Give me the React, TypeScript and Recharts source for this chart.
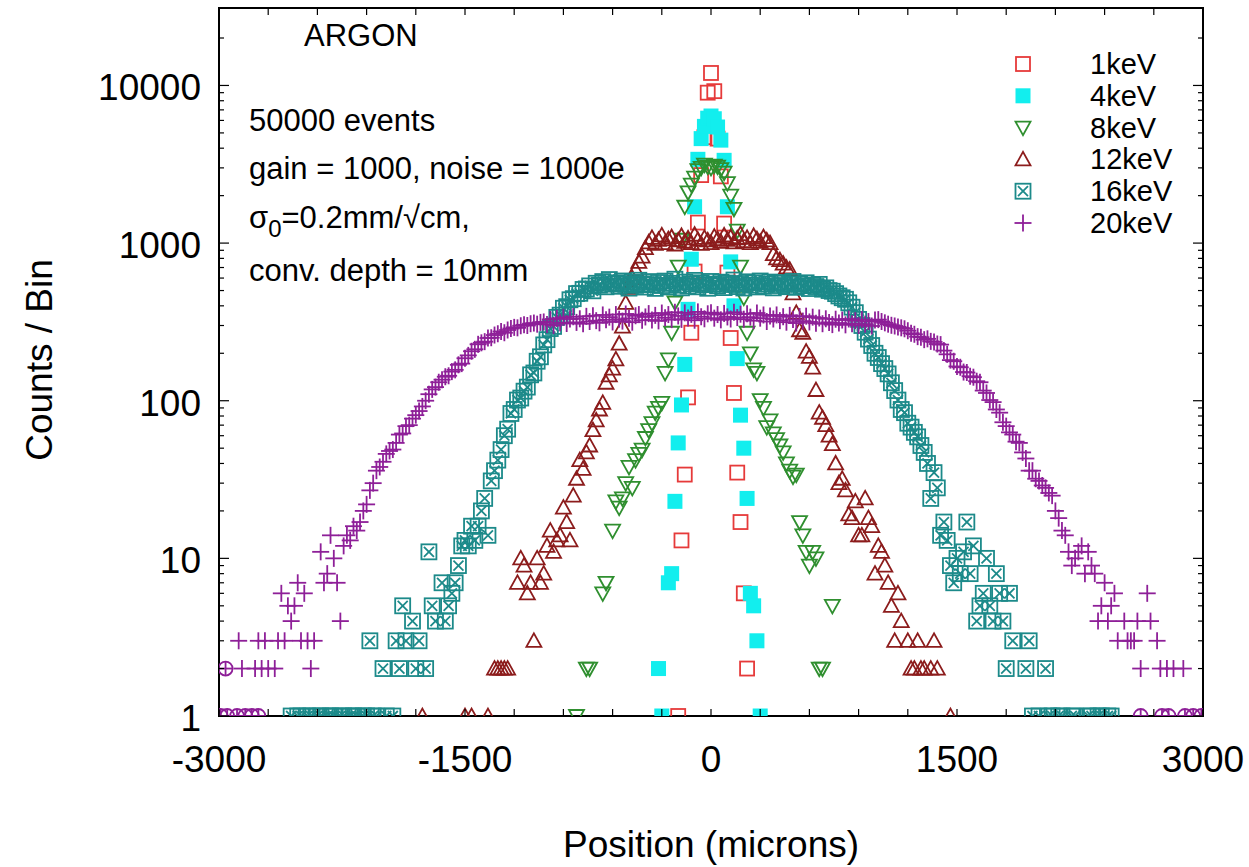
import React from 'react';
import { ScatterChart, Scatter, XAxis, YAxis, ReferenceArea } from 'recharts';

// ---------- layout ----------
const W = 1249;
const H = 867;
const PLOT_L = 219;
const PLOT_R = 1203;
const PLOT_T = 8;
const PLOT_B = 716;
const Y_AXIS_W = 120;
const FONT = '"Liberation Sans", Arial, Helvetica, sans-serif';

// ---------- data (histogram, bin width 20 microns) ----------
const BIN = 20;
const xTicks = [-3000, -2700, -2400, -2100, -1800, -1500, -1200, -900, -600, -300, 0, 300, 600, 900, 1200, 1500, 1800, 2100, 2400, 2700, 3000];
const xLabelTicks = [-3000, -1500, 0, 1500, 3000];
const yMajorTicks = [1, 10, 100, 1000, 10000];
const yMinorFactors = [2, 3, 4, 5, 6, 7, 8, 9];

const seriesNames = ['1keV', '4keV', '8keV', '12keV', '16keV', '20keV'];
const seriesColors = ['#e63a3a', '#12eeee', '#2f8f2f', '#8c1c1c', '#1c8a8a', '#8e1f98'];

const keV1Start = -200;
const keV1 = [1, 13, 34, 105, 270, 660, 1350, 2700, 4700, 9000, 12000, 9200, 4600, 2650, 1330, 650, 250, 112, 35, 17, 6, 2];

const keV4Start = -320;
const keV4 = [2, 1, 0, 7, 8, 23, 54, 94, 170, 380, 790, 1700, 3400, 4600, 5500, 6200, 6400, 6150, 5450, 4500, 3350, 1700, 760, 400, 185, 81, 50, 24, 6, 5, 3, 1];

const keV8Start = -820;
const keV8 = [
  1, 0, 0, 2, 2, 0, 0, 0, 6, 7,
  0, 15, 23, 21, 24, 30, 38, 28, 42, 46,
  49, 58, 65, 72, 84, 90, 97, 150, 183, 270,
  420, 710, 1050, 1700, 2100, 2350, 2600, 2900, 3000, 3150,
  3050, 3000, 3100, 3050, 2950, 2800, 2400, 2000, 1650, 1200,
  710, 450, 270, 200, 158, 150, 101, 90, 68, 75,
  62, 57, 52, 47, 40, 36, 33, 34, 17, 14,
  11, 9, 11, 10, 2, 2, 0, 0, 5,
];

const keV12Start = -1760;
const keV12 = [
  1, 0, 0, 0, 0, 0, 0, 0, 0, 0,
  0, 0, 0, 1, 0, 1, 0, 0, 0, 0,
  1, 0, 2, 2, 2, 2, 2, 0, 0, 7,
  10, 9, 6, 7, 3, 10, 7, 8, 12, 15,
  11, 13, 14, 21, 17, 13, 25, 32, 42, 37,
  47, 52, 65, 75, 88, 97, 130, 145, 160, 183,
  230, 295, 418, 520, 600, 680, 760, 820, 930, 1010,
  1080, 990, 1050, 1120, 1000, 1060, 1090, 980, 1040, 1110,
  1020, 1070, 1000, 1130, 1050, 990, 1080, 1040, 1000, 1100,
  1060, 1020, 1120, 1050, 1090, 1010, 1070, 1140, 1030, 1080,
  1000, 1110, 1060, 1020, 1090, 1040, 1000, 850, 800, 780,
  740, 700, 680, 480, 361, 280, 270, 205, 190, 162,
  117, 84, 78, 70, 60, 53, 40, 30, 32, 27,
  19, 18, 23, 14, 14, 24, 18, 16, 8, 12,
  11, 9, 7, 5, 3, 6, 4, 0, 3, 2,
  2, 3, 2, 2, 0, 2, 3, 2, 0, 0,
  0, 1,
];

const keV16Start = -2560;
const keV16 = [
  1, 0, 1, 1, 0, 1, 1, 0, 1, 1,
  0, 1, 1, 1, 0, 1, 1, 0, 1, 1,
  1, 0, 1, 1, 3, 1, 1, 0, 2, 1,
  0, 1, 3, 2, 5, 3, 0, 4, 2, 3,
  0, 2, 11, 5, 4, 0, 7, 4, 5, 6,
  7, 9, 12, 13, 12, 16, 13, 16, 20, 24,
  14, 31, 36, 42, 49, 60, 66, 83, 88, 101,
  104, 115, 122, 146, 150, 178, 190, 226, 244, 287,
  296, 338, 349, 386, 395, 437, 444, 478, 480, 508,
  512, 535, 498, 556, 541, 570, 528, 587, 549, 560,
  532, 575, 547, 518, 563, 539, 581, 552, 526, 570,
  545, 516, 562, 538, 574, 527, 555, 590, 541, 520,
  566, 534, 552, 580, 528, 560, 545, 517, 571, 549,
  536, 565, 522, 558, 546, 583, 530, 554, 519, 568,
  541, 560, 527, 575, 533, 549, 566, 520, 556, 538,
  562, 529, 548, 571, 524, 553, 537, 560, 515, 542,
  530, 547, 510, 520, 500, 495, 478, 462, 450, 440,
  418, 392, 362, 328, 300, 272, 246, 224, 200, 188,
  172, 160, 148, 130, 116, 101, 88, 84, 72, 68,
  63, 59, 52, 47, 40, 24, 35, 28, 14, 17,
  13, 9, 7, 10, 8, 11, 17, 8, 12, 4,
  5, 6, 10, 5, 4, 8, 6, 4, 2, 6,
  3, 0, 0, 0, 2, 3, 1, 0, 1, 0,
  2, 1, 1, 0, 1, 1, 0, 0, 1, 1,
  0, 0, 0, 1, 1, 0, 1, 1, 0, 1,
  1,
];

const keV20Start = -3000;
const keV20 = [
  0, 0, 0, 0, 0, 0, 3, 2, 0, 0,
  0, 2, 3, 2, 3, 2, 0, 2, 3, 6,
  3, 5, 4, 5, 7, 3, 6, 3, 2, 3,
  0, 11, 7, 8, 14, 10, 7, 4, 12, 14,
  13, 16, 15, 17, 20, 22, 27, 30, 36, 38,
  41, 46, 48, 49, 54, 61, 62, 69, 70, 77,
  81, 86, 92, 100, 110, 118, 122, 131, 136, 142,
  144, 153, 157, 169, 172, 186, 194, 206, 212, 228,
  233, 237, 250, 251, 261, 266, 275, 270, 281, 287,
  292, 290, 299, 303, 300, 308, 311, 306, 314, 316,
  305, 328, 300, 333, 312, 338, 309, 330, 341, 314,
  331, 308, 343, 318, 346, 322, 312, 350, 326, 339,
  316, 352, 329, 320, 355, 333, 315, 346, 352, 324,
  340, 357, 325, 348, 321, 360, 336, 352, 327, 364,
  345, 328, 361, 335, 353, 324, 366, 341, 331, 356,
  362, 334, 352, 326, 358, 340, 330, 364, 337, 354,
  329, 356, 339, 322, 360, 334, 350, 318, 345, 330,
  350, 322, 341, 315, 348, 327, 311, 342, 320, 344,
  316, 339, 310, 335, 308, 331, 314, 304, 329, 311,
  325, 303, 330, 308, 322, 300, 327, 306, 318, 298,
  325, 327, 318, 312, 306, 301, 298, 294, 290, 286,
  278, 268, 264, 255, 253, 244, 247, 238, 236, 229,
  227, 208, 197, 181, 178, 165, 163, 152, 151, 143,
  141, 133, 131, 116, 112, 101, 98, 88, 84, 73,
  69, 63, 61, 55, 54, 47, 43, 36, 36, 32,
  31, 29, 28, 26, 25, 20, 18, 15, 14, 11,
  9, 10, 11, 12, 8, 11, 9, 8, 4, 5,
  7, 4, 5, 6, 3, 0, 4, 3, 3, 3,
  4, 2, 0, 6, 4, 0, 3, 2, 0, 2,
  0, 2, 0, 0, 2, 0, 0, 0, 0, 0,
  0,
];

// under/overflow points drawn as circled crosses at the edges
const edgeX = [-2990, -2950, -2890, -2840, -2800, -2760, -2960, 2620, 2750, 2790, 2890, 2940, 2990];
const edgeY = [1, 1, 1, 1, 1, 1, 2, 1, 1, 1, 1, 1, 1];

// ---------- helpers ----------
type Pt = { x: number; y: number };
const toPoints = (start: number, values: number[]): Pt[] =>
  values
    .map((v, i) => ({ x: start + i * BIN, y: v }))
    .filter((p) => p.y > 0);

const edgePoints: Pt[] = edgeX.map((x, i) => ({ x, y: edgeY[i] }));

const yTicks: number[] = [];
yMajorTicks.forEach((m) => {
  yTicks.push(m);
  if (m < 10000) yMinorFactors.forEach((f) => yTicks.push(m * f));
  else yTicks.push(20000);
});

// ---------- marker shapes ----------
const SW = 1.8;
const drawMarker = (kind: number, cx: number, cy: number, color: string) => {
  switch (kind) {
    case 0:
      return <rect x={cx - 7} y={cy - 7} width={14} height={14} fill="none" stroke={color} strokeWidth={SW} />;
    case 1:
      return <rect x={cx - 7.5} y={cy - 7.5} width={15} height={15} fill={color} stroke="none" />;
    case 2:
      return (
        <polygon
          points={`${cx - 7.5},${cy - 6} ${cx + 7.5},${cy - 6} ${cx},${cy + 7.5}`}
          fill="none"
          stroke={color}
          strokeWidth={SW}
        />
      );
    case 3:
      return (
        <polygon
          points={`${cx - 7.5},${cy + 6} ${cx + 7.5},${cy + 6} ${cx},${cy - 7.5}`}
          fill="none"
          stroke={color}
          strokeWidth={SW}
        />
      );
    case 4:
      return (
        <g fill="none" stroke={color} strokeWidth={SW}>
          <rect x={cx - 7.5} y={cy - 7.5} width={15} height={15} />
          <line x1={cx - 5} y1={cy - 5} x2={cx + 5} y2={cy + 5} />
          <line x1={cx - 5} y1={cy + 5} x2={cx + 5} y2={cy - 5} />
        </g>
      );
    case 5:
      return (
        <g stroke={color} strokeWidth={SW}>
          <line x1={cx - 8.5} y1={cy} x2={cx + 8.5} y2={cy} />
          <line x1={cx} y1={cy - 8.5} x2={cx} y2={cy + 8.5} />
        </g>
      );
    default:
      return (
        <g fill="none" stroke={color} strokeWidth={SW}>
          <circle cx={cx} cy={cy} r={7} />
          <line x1={cx - 7} y1={cy} x2={cx + 7} y2={cy} />
          <line x1={cx} y1={cy - 7} x2={cx} y2={cy + 7} />
        </g>
      );
  }
};

const makeShape = (kind: number, color: string) => (props: any) => {
  const { cx, cy } = props;
  if (cx == null || cy == null || isNaN(cx) || isNaN(cy)) return <g />;
  return drawMarker(kind, cx, cy, color);
};

// ---------- ticks ----------
const XTick = (props: any) => {
  const { x, y, payload } = props;
  const v = payload.value;
  const showLabel = xLabelTicks.includes(v);
  return (
    <g>
      <line x1={x} y1={PLOT_B} x2={x} y2={PLOT_B - 7} stroke="#000" strokeWidth={1.2} />
      <line x1={x} y1={PLOT_T} x2={x} y2={PLOT_T + 7} stroke="#000" strokeWidth={1.2} />
      {showLabel && (
        <text x={x} y={y + 56} textAnchor="middle" fontFamily={FONT} fontSize={37} fill="#000">
          {v}
        </text>
      )}
    </g>
  );
};

const YTick = (props: any) => {
  const { x, y, payload } = props;
  const v = payload.value;
  const isMajor = yMajorTicks.includes(v);
  const len = isMajor ? 10 : 5;
  return (
    <g>
      <line x1={PLOT_L} y1={y} x2={PLOT_L + len} y2={y} stroke="#000" strokeWidth={1.2} />
      <line x1={PLOT_R} y1={y} x2={PLOT_R - len} y2={y} stroke="#000" strokeWidth={1.2} />
      {isMajor && (
        <text x={x - 18} y={y + 15} textAnchor="end" fontFamily={FONT} fontSize={37} fill="#000">
          {v}
        </text>
      )}
    </g>
  );
};

// ---------- chart ----------
const seriesData: Pt[][] = [
  toPoints(keV1Start, keV1),
  toPoints(keV4Start, keV4),
  toPoints(keV8Start, keV8),
  toPoints(keV12Start, keV12),
  toPoints(keV16Start, keV16),
  toPoints(keV20Start, keV20),
];

const LEG_X = 1023;
const LEG_Y0 = 64;
const LEG_DY = 31.8;

export default function App() {
  return (
    <div style={{ position: 'absolute', left: 0, top: 0, width: W, height: H, background: '#fff' }}>
      <ScatterChart
        width={W}
        height={H}
        margin={{ top: PLOT_T, right: W - PLOT_R, bottom: 0, left: PLOT_L - Y_AXIS_W }}
      >
        <XAxis
          dataKey="x"
          type="number"
          domain={[-3000, 3000]}
          ticks={xTicks}
          interval={0}
          allowDataOverflow
          axisLine={false}
          tickLine={false}
          tickSize={0}
          tickMargin={0}
          height={H - PLOT_B}
          tick={(p: any) => <XTick {...p} />}
        />
        <YAxis
          dataKey="y"
          type="number"
          scale="log"
          domain={[1, 31000]}
          ticks={yTicks}
          interval={0}
          allowDataOverflow
          axisLine={false}
          tickLine={false}
          tickSize={0}
          tickMargin={0}
          width={Y_AXIS_W}
          tick={(p: any) => <YTick {...p} />}
        />
        {seriesData.map((d, i) => (
          <Scatter
            key={seriesNames[i]}
            name={seriesNames[i]}
            data={d}
            isAnimationActive={false}
            shape={makeShape(i, seriesColors[i])}
          />
        ))}
        <Scatter
          name="edge"
          data={edgePoints}
          isAnimationActive={false}
          shape={makeShape(6, seriesColors[5])}
        />
        <ReferenceArea
          x1={-3000}
          x2={3000}
          y1={1}
          y2={31000}
          fill="none"
          fillOpacity={0}
          stroke="#000"
          strokeWidth={2}
          ifOverflow="visible"
        />
        <g fontFamily={FONT} fill="#000">
          <text x={304} y={46} fontSize={31}>ARGON</text>
          <text x={249} y={131} fontSize={31}>50000 events</text>
          <text x={249} y={179} fontSize={31}>gain = 1000, noise = 1000e</text>
          <text x={249} y={228} fontSize={31}>
            σ<tspan dy={9} fontSize={24}>0</tspan>
            <tspan dy={-9}>=0.2mm/√cm,</tspan>
          </text>
          <text x={249} y={281} fontSize={31}>conv. depth = 10mm</text>
          <text
            x={52}
            y={360}
            fontSize={37}
            textAnchor="middle"
            transform="rotate(-90 52 360)"
          >
            Counts / Bin
          </text>
          <text x={711} y={857} fontSize={37} textAnchor="middle">
            Position (microns)
          </text>
        </g>
        <g>
          {seriesNames.map((n, i) => (
            <g key={n}>
              {drawMarker(i, LEG_X, LEG_Y0 + i * LEG_DY, seriesColors[i])}
              <text
                x={1090}
                y={LEG_Y0 + i * LEG_DY + 10}
                fontFamily={FONT}
                fontSize={29}
                fill="#000"
              >
                {n}
              </text>
            </g>
          ))}
        </g>
      </ScatterChart>
    </div>
  );
}
